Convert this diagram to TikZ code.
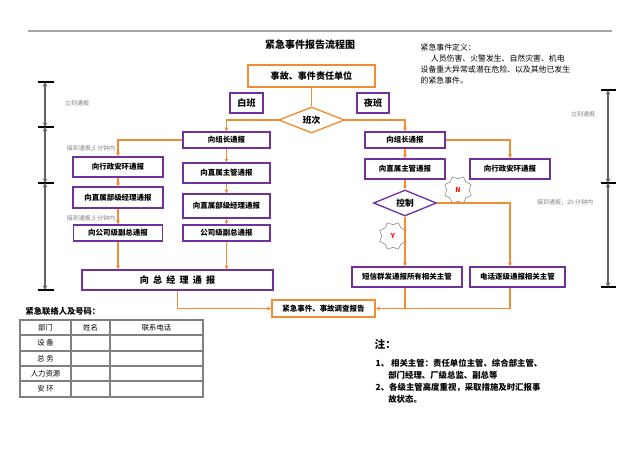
\documentclass[tikz,border=0pt]{standalone}
\usepackage{fontspec}
\setmainfont{Noto Sans CJK SC}
\usetikzlibrary{shapes.geometric,arrows.meta}
\definecolor{org}{RGB}{240,140,50}
\definecolor{pur}{RGB}{112,48,160}
\begin{document}
\begin{tikzpicture}[x=0.75pt,y=-0.75pt,
 pb/.style={draw=pur,line width=1pt,inner sep=0,font=\fontsize{5.6}{6}\selectfont\bfseries},
 ob/.style={draw=org,line width=1.5pt,inner sep=0,font=\fontsize{6}{7}\selectfont\bfseries},
 dm/.style={diamond,draw,line width=1pt,aspect=2.6,inner sep=1pt,font=\fontsize{6.5}{7}\selectfont\bfseries},
 ar/.style={draw=org,line width=1pt,-{Stealth[length=3pt,width=3pt]}},
 ln/.style={draw=org,line width=1pt},
 st/.style={star,star points=8,star point ratio=0.8,draw=gray,minimum size=17pt,inner sep=0,text=red,font=\fontsize{5}{5}\selectfont\bfseries},
 dim/.style={draw=black!60,line width=0.8pt,{Stealth[length=3.5pt,width=3.5pt]}-{Stealth[length=3.5pt,width=3.5pt]}},
 tk/.style={draw=black,line width=1pt},
 lab/.style={text=gray,font=\fontsize{4.5}{5}\selectfont}]
\useasboundingbox (0,0) rectangle (640,453);
\draw[gray!70,line width=1.5pt] (28,31) -- (612,31);
\node[font=\fontsize{7.5}{8}\selectfont\bfseries] (title) at (310,45) {紧急事件报告流程图};
\node[anchor=north west,align=left,font=\fontsize{5.9}{8.3}\selectfont] (def) at (416,39) {紧急事件定义：\\\hspace*{1.3em}人员伤害、火警发生、自然灾害、机电\\设备重大异常或潜在危险、以及其他已发生\\的紧急事件。};
% top
\node[ob,minimum width=127*0.75pt,minimum height=22*0.75pt,font=\fontsize{6.8}{7}\selectfont\bfseries] (top) at (311.5,76) {事故、事件责任单位};
\node[pb,minimum width=33*0.75pt,minimum height=20*0.75pt,font=\fontsize{6.8}{7}\selectfont\bfseries] (bai) at (246.5,103) {白班};
\node[pb,minimum width=32*0.75pt,minimum height=20*0.75pt,font=\fontsize{6.8}{7}\selectfont\bfseries] (ye) at (373,103) {夜班};
\node[dm,draw=org,minimum width=66*0.75pt,minimum height=26*0.75pt] (bc) at (311.5,120) {班次};
\draw[ln] (top) -- (bc);
% left
\tikzset{bw/.style={pb,minimum width=87*0.75pt,minimum height=#1*0.75pt}}
\node[bw=16] (lz) at (226.5,140) {向组长通报};
\node[bw=20] (lzg) at (226.5,173) {向直属主管通报};
\node[bw=24] (ljl) at (226.5,206) {向直属部级经理通报};
\node[bw=16] (lfz) at (226.5,233) {公司级副总通报};
\node[pb,minimum width=90*0.75pt,minimum height=20*0.75pt] (lxz) at (118,167) {向行政安环通报};
\node[pb,minimum width=90*0.75pt,minimum height=21*0.75pt] (ljl2) at (118,197.5) {向直属部级经理通报};
\node[pb,minimum width=89*0.75pt,minimum height=16*0.75pt] (lfz2) at (118,233) {向公司级副总通报};
\node[pb,minimum width=191*0.75pt,minimum height=20*0.75pt,font=\fontsize{6.8}{7}\selectfont\bfseries] (zjl) at (177.5,280) {向\ \ 总\ \ 经\ \ 理\ \ 通\ \ 报};
\draw[ar] (bc.west) -| (lz.north);
\draw[ar] (lz) -- (lzg);
\draw[ar] (lzg) -- (ljl);
\draw[ar] (ljl) -- (lfz);
\draw[ar] (lz.west) -| (lxz.north);
\draw[ar] (lxz) -- (ljl2);
\draw[ar] (ljl2) -- (lfz2);
\draw[ar] (lfz2.south) -- (lfz2.south|-zjl.north);
\draw[ar] (lfz.south) -- (lfz.south|-zjl.north);
% right
\node[pb,minimum width=80*0.75pt,minimum height=16*0.75pt] (rz) at (405,140) {向组长通报};
\node[pb,minimum width=80*0.75pt,minimum height=20*0.75pt] (rzg) at (405,169) {向直属主管通报};
\node[pb,minimum width=80*0.75pt,minimum height=20*0.75pt] (rxz) at (510,169) {向行政安环通报};
\node[dm,draw=pur,minimum width=63*0.75pt,minimum height=26*0.75pt] (kz) at (405,203) {控制};
\node[pb,minimum width=110*0.75pt,minimum height=20*0.75pt] (dx) at (407,277) {短信群发通报所有相关主管};
\node[pb,minimum width=95*0.75pt,minimum height=20*0.75pt] (dh) at (517.5,277) {电话逐级通报相关主管};
\node[st] (N) at (458,190) {N};
\node[st] (Y) at (393,236) {Y};
\draw[ar] (bc.east) -| (rz.north);
\draw[ar] (rz) -- (rzg);
\draw[ar] (rz.east) -| (rxz.north);
\draw[ar] (rzg) -- (kz);
\draw[ar] (kz.south) -- (kz.south|-dx.north);
\draw[ar] (kz.east) -| (dh.north-|rxz.south);
% bottom
\node[ob,minimum width=103*0.75pt,minimum height=17*0.75pt,font=\fontsize{5.6}{6}\selectfont\bfseries] (bg) at (323.5,308.5) {紧急事件、事故调查报告};
\draw[ar] (zjl.south) |- (bg.west);
\draw[ar] (kz.south|-dx.south) |- (bg.east);
\draw[ln] (rxz.south|-dh.south) |- (kz.south|-bg.east);
% dimensions
\foreach \y in {82,127,183,290} \draw[tk] (38,\y) -- (54,\y);
\draw[dim] (45,82) -- (45,127);
\draw[dim] (45,127) -- (45,183);
\draw[dim] (45,183) -- (45,290);
\foreach \y in {90,183,287} \draw[tk] (601,\y) -- (616,\y);
\draw[dim] (608,90) -- (608,183);
\draw[dim] (608,183) -- (608,287);
\node[lab] (l1) at (77,103) {立刻通报};
\node[lab] (l2) at (91,149) {接到通报,5 分钟内};
\node[lab] (l3) at (91,219) {接到通报,5 分钟内};
\node[lab] (r1) at (583,114) {立刻通报};
\node[lab] (r2) at (565,202) {接到通报，20 分钟内};
% table
\node[anchor=west,font=\fontsize{6.2}{7}\selectfont\bfseries] (tt) at (21,311) {紧急联络人及号码：};
\draw[gray,line width=0.8pt] (20,320) rectangle (203,397);
\foreach \y in {335,351,366,381} \draw[gray,line width=0.8pt] (20,\y) -- (203,\y);
\foreach \x in {71,110} \draw[gray,line width=0.8pt] (\x,320) -- (\x,397);
\tikzset{tc/.style={font=\fontsize{5.5}{6}\selectfont}}
\node[tc] (c1) at (45.5,327.5) {部门};
\node[tc] (c2) at (90.5,327.5) {姓名};
\node[tc] (c3) at (156.5,327.5) {联系电话};
\node[tc] (c4) at (45.5,343) {设\ 备};
\node[tc] (c5) at (45.5,358.5) {总\ 务};
\node[tc] (c6) at (45.5,373.5) {人力资源};
\node[tc] (c7) at (45.5,389) {安\ 环};
% notes
\node[anchor=west,font=\fontsize{8}{9}\selectfont\bfseries] (zhu) at (370,344) {注：};
\node[anchor=north west,align=left,font=\fontsize{6.3}{9}\selectfont\bfseries] (notes) at (371,354) {1、\ 相关主管：责任单位主管、综合部主管、\\\hspace*{1.5em}部门经理、厂级总监、副总等\\2、各级主管高度重视，采取措施及时汇报事\\\hspace*{1.5em}故状态。};
\end{tikzpicture}
\end{document}
